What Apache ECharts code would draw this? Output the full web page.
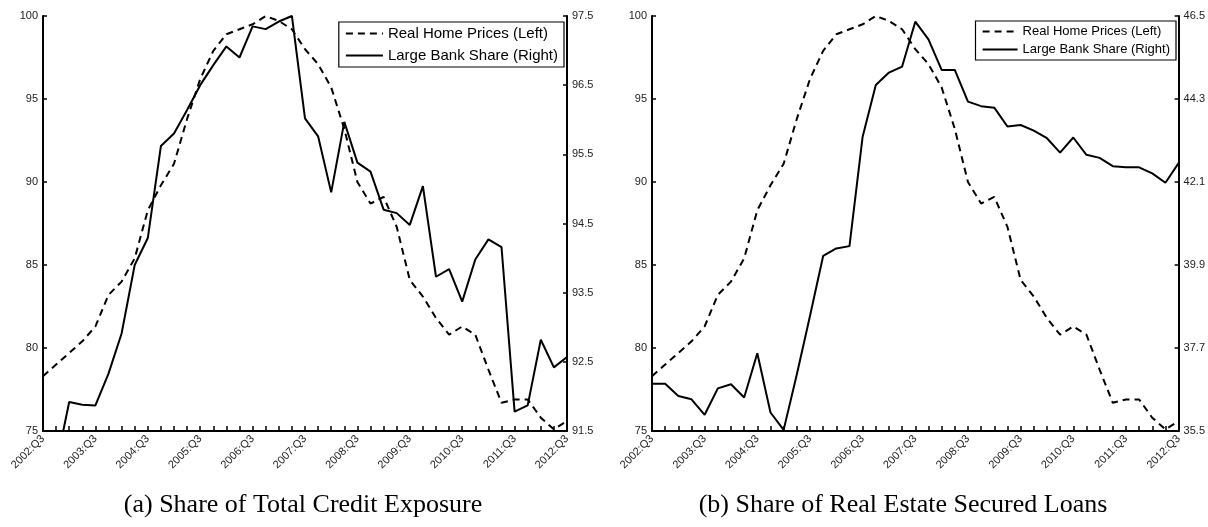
<!DOCTYPE html>
<html>
<head>
<meta charset="utf-8">
<script src="https://cdn.jsdelivr.net/npm/echarts@6/dist/echarts.min.js"></script>
<style>
html,body{margin:0;padding:0;background:#fff;}
#chart{width:1208px;height:527px;}
</style>
</head>
<body>
<div id="chart"></div>
<script>
const quarters = ["2002:Q3","2002:Q4","2003:Q1","2003:Q2","2003:Q3","2003:Q4","2004:Q1","2004:Q2","2004:Q3","2004:Q4",
"2005:Q1","2005:Q2","2005:Q3","2005:Q4","2006:Q1","2006:Q2","2006:Q3","2006:Q4","2007:Q1","2007:Q2",
"2007:Q3","2007:Q4","2008:Q1","2008:Q2","2008:Q3","2008:Q4","2009:Q1","2009:Q2","2009:Q3","2009:Q4",
"2010:Q1","2010:Q2","2010:Q3","2010:Q4","2011:Q1","2011:Q2","2011:Q3","2011:Q4","2012:Q1","2012:Q2","2012:Q3"];

const homePrices = [78.3,79.0,79.7,80.4,81.3,83.2,84.0,85.4,88.3,89.8,91.1,93.8,96.2,97.9,98.9,99.2,99.5,100.0,99.7,99.2,
98.0,97.1,95.7,93.2,90.0,88.7,89.1,87.3,84.1,83.1,81.8,80.8,81.3,80.8,78.7,76.7,76.9,76.9,75.8,75.1,75.6];

const bankShareCredit = [90.7,91.0,91.92,91.88,91.87,92.33,92.91,93.9,94.29,95.62,95.8,96.14,96.5,96.79,97.06,96.9,97.35,97.31,97.42,97.5,
96.02,95.76,94.95,95.97,95.38,95.25,94.7,94.65,94.48,95.04,93.73,93.84,93.37,93.98,94.27,94.16,91.78,91.87,92.82,92.42,92.57];

const bankShareRealEstate = [36.75,36.75,36.43,36.34,35.93,36.63,36.74,36.39,37.56,35.99,35.53,37.0,38.55,40.14,40.34,40.4,43.3,44.67,45.0,45.16,
46.35,45.88,45.07,45.07,44.23,44.11,44.07,43.57,43.61,43.46,43.26,42.88,43.28,42.82,42.74,42.52,42.49,42.49,42.33,42.08,42.6];

const leftAxis = {min:75, max:100, interval:5};
const rightAxisA = {min:91.5, max:97.5, interval:1};
const rightAxisB = {min:35.5, max:46.5, interval:2.2};

const nameHome = "Real Home Prices (Left)";
const nameBank = "Large Bank Share (Right)";
const captionA = "(a) Share of Total Credit Exposure";
const captionB = "(b) Share of Real Estate Secured Loans";

const FONT = "Liberation Sans, Arial, sans-serif";
const axisLine = {show:true, lineStyle:{color:'#000', width:2}};

function xAxisFor(gi){
  return {
    type:'category', gridIndex:gi, data:quarters, boundaryGap:false,
    axisLine:axisLine,
    axisTick:{show:true, inside:true, length:5, interval:0, lineStyle:{color:'#000', width:1.5}},
    axisLabel:{interval:3, rotate:45, fontSize:11, fontFamily:FONT, color:'#222', margin:6},
    splitLine:{show:false}
  };
}
function yAxisFor(gi, pos, rng, fmt){
  return {
    type:'value', gridIndex:gi, position:pos, min:rng.min, max:rng.max, interval:rng.interval,
    axisLine:axisLine,
    axisTick:{show:true, inside:true, length:4, lineStyle:{color:'#000', width:1.5}},
    axisLabel:{fontSize:11, fontFamily:FONT, color:'#222', margin:5, formatter: fmt},
    splitLine:{show:false}
  };
}
const dashed = {color:'#000', width:2, type:[7,5]};
const solid = {color:'#000', width:2, type:'solid'};

function legendFor(right, top, fs, iw, gap){
  return {
    data:[nameHome, nameBank], orient:'vertical', right:right, top:top,
    backgroundColor:'#fff', borderColor:'#000', borderWidth:1.2, borderRadius:0,
    padding:[4,6,4,6], itemGap:gap, itemWidth:iw, itemHeight:14,
    itemStyle:{opacity:0},
    lineStyle:{width:2.2},
    textStyle:{fontSize:fs, fontFamily:FONT, color:'#000'},
    selectedMode:false
  };
}

const option = {
  animation:false,
  backgroundColor:'#fff',
  color:['#000','#000','#000','#000'],
  grid:[
    {left:43, right:641, top:16, bottom:96, containLabel:false},
    {left:652, right:29, top:16, bottom:96, containLabel:false}
  ],
  xAxis:[xAxisFor(0), xAxisFor(1)],
  yAxis:[
    yAxisFor(0,'left',leftAxis, v => String(v)),
    yAxisFor(0,'right',rightAxisA, v => v.toFixed(1)),
    yAxisFor(1,'left',leftAxis, v => String(v)),
    yAxisFor(1,'right',rightAxisB, v => v.toFixed(1))
  ],
  legend:[legendFor(644, 22, 15, 37, 7), legendFor(32, 21, 13, 35, 5)],
  series:[
    {name:nameHome, type:'line', xAxisIndex:0, yAxisIndex:0, data:homePrices, symbol:'none', showSymbol:false, itemStyle:{color:'#000'}, lineStyle:dashed, clip:true},
    {name:nameBank, type:'line', xAxisIndex:0, yAxisIndex:1, data:bankShareCredit, symbol:'none', showSymbol:false, itemStyle:{color:'#000'}, lineStyle:solid, clip:true},
    {name:nameHome, type:'line', xAxisIndex:1, yAxisIndex:2, data:homePrices, symbol:'none', showSymbol:false, itemStyle:{color:'#000'}, lineStyle:dashed, clip:true},
    {name:nameBank, type:'line', xAxisIndex:1, yAxisIndex:3, data:bankShareRealEstate, symbol:'none', showSymbol:false, itemStyle:{color:'#000'}, lineStyle:solid, clip:true}
  ],
  graphic:[
    {type:'text', style:{text:captionA, x:303, y:492, textAlign:'center', font:'26px "Liberation Serif", "DejaVu Serif", serif', fill:'#000'}},
    {type:'text', style:{text:captionB, x:903, y:492, textAlign:'center', font:'26px "Liberation Serif", "DejaVu Serif", serif', fill:'#000'}}
  ]
};

const chart = echarts.init(document.getElementById('chart'), null, {renderer:'canvas'});
chart.setOption(option);
</script>
</body>
</html>
